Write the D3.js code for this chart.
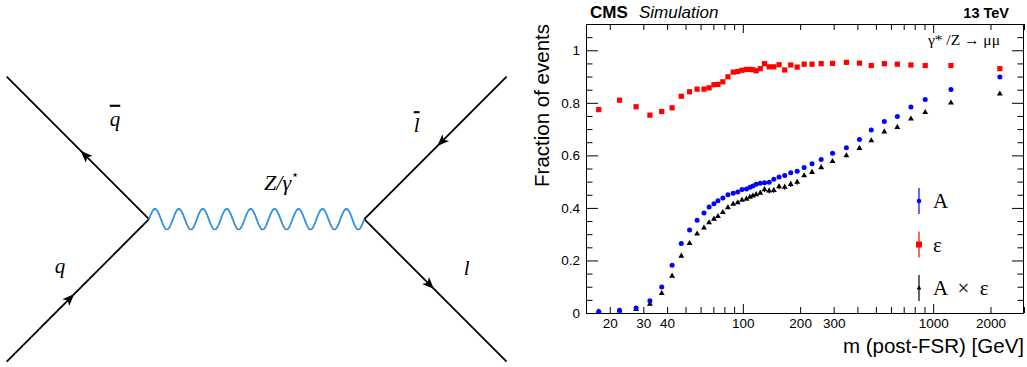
<!DOCTYPE html>
<html>
<head>
<meta charset="utf-8">
<script src="https://cdn.jsdelivr.net/npm/d3@7"></script>
<style>
  body { margin: 0; background: #fff; }
  svg { display: block; font-family: "Liberation Sans", Arial, sans-serif; }
</style>
</head>
<body>
<svg id="chart" width="1027" height="367"></svg>
<script>
// bin centres of m (post-FSR), GeV
const masses = [17.5, 22.5, 27.5, 32.5, 37.5, 42.5, 47.5, 52.5, 57.5, 62.5, 66.5, 70.5, 74, 78.5, 83.5, 89, 94, 99,
  104.5, 109, 113, 117.5, 123.5, 130, 137.5, 145.5, 155, 166, 178.5, 193, 210, 231, 258, 296, 350, 410, 473,
  554, 648, 764, 908, 1240, 2240];

// acceptance A (blue circles)
const acceptance = [0.006, 0.010, 0.019, 0.047, 0.099, 0.182, 0.265, 0.316, 0.353, 0.381, 0.403, 0.416, 0.427,
  0.438, 0.450, 0.456, 0.461, 0.470, 0.472, 0.479, 0.483, 0.490, 0.494, 0.496, 0.498, 0.509, 0.518, 0.523,
  0.534, 0.540, 0.554, 0.568, 0.584, 0.608, 0.629, 0.660, 0.697, 0.729, 0.748, 0.784, 0.813, 0.851, 0.898];

// efficiency eps (red squares)
const efficiency = [0.774, 0.810, 0.785, 0.753, 0.767, 0.781, 0.825, 0.842, 0.852, 0.852, 0.857, 0.869, 0.870,
  0.880, 0.899, 0.917, 0.919, 0.924, 0.927, 0.927, 0.926, 0.922, 0.930, 0.949, 0.937, 0.937, 0.945, 0.925,
  0.944, 0.936, 0.947, 0.947, 0.949, 0.950, 0.954, 0.951, 0.942, 0.949, 0.947, 0.944, 0.942, 0.942, 0.930];

// A x eps (black triangles)
const accEff = [0.005, 0.008, 0.014, 0.034, 0.075, 0.141, 0.217, 0.265, 0.301, 0.324, 0.344, 0.358, 0.368,
  0.383, 0.401, 0.415, 0.420, 0.430, 0.434, 0.441, 0.446, 0.451, 0.457, 0.470, 0.465, 0.467, 0.481, 0.479,
  0.490, 0.498, 0.523, 0.536, 0.554, 0.577, 0.599, 0.627, 0.656, 0.690, 0.707, 0.739, 0.764, 0.800, 0.834];

// only the error bars that are visible in the plot
const accErr = masses.map((m, i) => (i >= 24 && i <= 29) ? 0.006 : 0);
const accEffErr = masses.map((m, i) => (i >= 23 && i <= 29) ? 0.01 : 0);

const xMinorTicks = [20, 30, 40, 50, 60, 70, 80, 90, 200, 300, 400, 500, 600, 700, 800, 900, 2000, 3000];
const xMajorTicks = [100, 1000];
const xTickLabels = [20, 30, 40, 100, 200, 300, 1000, 2000];
const yTickLabels = [0, 0.2, 0.4, 0.6, 0.8, 1];
const legendLabels = ['A', 'ε', 'A × ε'];

// Feynman diagram, in diagram units (1 unit = one leg)
const feynNodes = {
  qIn: [0, -1], qbarOut: [0, 1], v1: [1, 0], v2: [2.513, 0], lbarIn: [3.513, 1], lOut: [3.513, -1]
};
// fermion legs in arrow direction, arrow at fraction t
const feynFermions = [
  { from: 'qIn', to: 'v1', t: 0.445 },
  { from: 'v1', to: 'qbarOut', t: 0.45 },
  { from: 'lbarIn', to: 'v2', t: 0.457 },
  { from: 'v2', to: 'lOut', t: 0.46 }
];
const feynLabels = [
  { text: 'q', bar: true, x: 0.761, y: 0.705 },
  { text: 'q', bar: false, x: 0.375, y: -0.33 },
  { text: 'l', bar: true, x: 2.881, y: 0.66 },
  { text: 'l', bar: false, x: 3.233, y: -0.34 }
];
const bosonLabel = { x: 1.932, y: 0.26 };

const svg = d3.select('#chart');
svg.append('rect').attr('width', 1027).attr('height', 367).attr('fill', '#fff');

// ---------- Feynman diagram ----------
const fx = d3.scaleLinear().domain([0, 1]).range([6.7, 149]);
const fy = d3.scaleLinear().domain([-1, 1]).range([361.7, 76.7]);
const P = id => [fx(feynNodes[id][0]), fy(feynNodes[id][1])];

const feyn = svg.append('g');

feynFermions.forEach(f => {
  const a = P(f.from), b = P(f.to);
  feyn.append('line')
    .attr('x1', a[0]).attr('y1', a[1]).attr('x2', b[0]).attr('y2', b[1])
    .attr('stroke', '#000').attr('stroke-width', 1.8);
  const len = Math.hypot(b[0] - a[0], b[1] - a[1]);
  const ux = (b[0] - a[0]) / len, uy = (b[1] - a[1]) / len;
  const cx = a[0] + f.t * (b[0] - a[0]), cy = a[1] + f.t * (b[1] - a[1]);
  const tip = [cx + 6 * ux, cy + 6 * uy];
  const l = [cx - 6 * ux - 4.8 * uy, cy - 6 * uy + 4.8 * ux];
  const r = [cx - 6 * ux + 4.8 * uy, cy - 6 * uy - 4.8 * ux];
  feyn.append('path')
    .attr('d', `M${tip}L${l}L${cx - 3 * ux},${cy - 3 * uy}L${r}Z`)
    .attr('fill', '#000');
});

// photon / Z propagator
const v1 = feynNodes.v1, v2 = feynNodes.v2;
const wave = d3.range(0, 541).map(i => {
  const t = i / 540;
  return [v1[0] + t * (v2[0] - v1[0]), 0.072 * Math.sin(2 * Math.PI * 9 * t)];
});
feyn.append('path')
  .datum(wave)
  .attr('d', d3.line().x(d => fx(d[0])).y(d => fy(d[1])))
  .attr('fill', 'none')
  .attr('stroke', '#3590db')
  .attr('stroke-width', 1.8);

feyn.selectAll('text.leg')
  .data(feynLabels)
  .join('text')
  .attr('class', 'leg')
  .attr('x', d => fx(d.x))
  .attr('y', d => fy(d.y))
  .attr('text-anchor', 'middle')
  .attr('dominant-baseline', 'central')
  .attr('font-family', '"Liberation Serif", "Times New Roman", serif')
  .attr('font-style', 'italic')
  .attr('font-size', 21)
  .style('text-decoration', d => d.bar ? 'overline' : 'none')
  .text(d => d.text);

const zl = feyn.append('text')
  .attr('x', fx(bosonLabel.x))
  .attr('y', fy(bosonLabel.y))
  .attr('text-anchor', 'middle')
  .attr('dominant-baseline', 'central')
  .attr('font-family', '"Liberation Serif", "Times New Roman", serif')
  .attr('font-style', 'italic')
  .attr('font-size', 22);
zl.append('tspan').text('Z/γ');
zl.append('tspan').attr('dy', -8).attr('font-size', 13).attr('font-style', 'normal').text('⋆');

// ---------- efficiency plot ----------
const W = 1027, H = 367;
const margin = { top: 24, right: 3, bottom: 54, left: 586 };
const plotW = W - margin.left - margin.right;
const plotH = H - margin.top - margin.bottom;

const g = svg.append('g').attr('transform', `translate(${margin.left},${margin.top})`);

const x = d3.scaleLog().domain([15, 3000]).range([0, plotW]);
const y = d3.scaleLinear().domain([0, 1.1]).range([plotH, 0]);

const yTicks = d3.range(0, 23).map(i => +(i * 0.05).toFixed(2));
const isMajorY = v => yTickLabels.includes(v);
const allX = xMinorTicks.concat(xMajorTicks);

function styleAxis(sel) {
  sel.select('.domain').remove();
  sel.attr('font-family', '"Liberation Sans", Arial, sans-serif').attr('font-size', 13.5);
  sel.selectAll('.tick line').attr('stroke-width', 1);
}

// bottom
const axBottom = g.append('g').attr('transform', `translate(0,${plotH})`)
  .call(d3.axisBottom(x).tickValues(allX).tickSize(-6).tickPadding(5)
    .tickFormat(d => xTickLabels.includes(d) ? d : ''))
  .call(styleAxis);
axBottom.selectAll('.tick').filter(d => xMajorTicks.includes(d)).select('line').attr('y2', -9);

// top
const axTop = g.append('g')
  .call(d3.axisTop(x).tickValues(allX).tickSize(-6).tickFormat(''))
  .call(styleAxis);
axTop.selectAll('.tick').filter(d => xMajorTicks.includes(d)).select('line').attr('y2', 9);

// left
const axLeft = g.append('g')
  .call(d3.axisLeft(y).tickValues(yTicks).tickSize(-6.5).tickPadding(6)
    .tickFormat(d => isMajorY(d) ? d3.format('~g')(d) : ''))
  .call(styleAxis);
axLeft.selectAll('.tick').filter(d => isMajorY(d)).select('line').attr('x2', 12);

// right
const axRight = g.append('g').attr('transform', `translate(${plotW},0)`)
  .call(d3.axisRight(y).tickValues(yTicks).tickSize(-6.5).tickFormat(''))
  .call(styleAxis);
axRight.selectAll('.tick').filter(d => isMajorY(d)).select('line').attr('x2', -12);

g.append('rect')
  .attr('x', 0.5).attr('y', 0.5).attr('width', plotW - 1).attr('height', plotH)
  .attr('fill', 'none').attr('stroke', '#000').attr('stroke-width', 1);

const pts = masses.map((m, i) => ({
  m: m, a: acceptance[i], e: efficiency[i], ae: accEff[i], aErr: accErr[i], aeErr: accEffErr[i]
}));

// error bars
g.selectAll('line.errae').data(pts.filter(d => d.aeErr > 0)).join('line')
  .attr('x1', d => x(d.m)).attr('x2', d => x(d.m))
  .attr('y1', d => y(d.ae - d.aeErr)).attr('y2', d => y(d.ae + d.aeErr))
  .attr('stroke', '#000').attr('stroke-width', 1);
g.selectAll('line.erra').data(pts.filter(d => d.aErr > 0)).join('line')
  .attr('x1', d => x(d.m)).attr('x2', d => x(d.m))
  .attr('y1', d => y(d.a - d.aErr)).attr('y2', d => y(d.a + d.aErr))
  .attr('stroke', '#0000ff').attr('stroke-width', 1);

const tri = d3.symbol().type(d3.symbolTriangle).size(15);

g.selectAll('path.ae').data(pts).join('path')
  .attr('class', 'ae')
  .attr('transform', d => `translate(${x(d.m)},${y(d.ae)})`)
  .attr('d', tri)
  .attr('fill', '#000');

g.selectAll('circle.a').data(pts).join('circle')
  .attr('class', 'a')
  .attr('cx', d => x(d.m)).attr('cy', d => y(d.a)).attr('r', 2.5)
  .attr('fill', '#0000ff');

g.selectAll('rect.e').data(pts).join('rect')
  .attr('class', 'e')
  .attr('x', d => x(d.m) - 2.6).attr('y', d => y(d.e) - 2.6)
  .attr('width', 5.2).attr('height', 5.2)
  .attr('fill', '#ff0000');

// legend
const legX = plotW - 105, legY0 = 177, legStep = 43.5;
const legColors = ['#0000ff', '#ff0000', '#000'];
legendLabels.forEach((lab, i) => {
  const ly = legY0 + i * legStep;
  g.append('line').attr('x1', legX).attr('x2', legX).attr('y1', ly - 13).attr('y2', ly + 13)
    .attr('stroke', legColors[i]).attr('stroke-width', 1.2);
  if (i === 0) g.append('circle').attr('cx', legX).attr('cy', ly).attr('r', 2.3).attr('fill', legColors[i]);
  if (i === 1) g.append('rect').attr('x', legX - 3).attr('y', ly - 3).attr('width', 6).attr('height', 6).attr('fill', legColors[i]);
  if (i === 2) g.append('path').attr('transform', `translate(${legX},${ly})`).attr('d', d3.symbol().type(d3.symbolTriangle).size(10)).attr('fill', legColors[i]);
  g.append('text')
    .attr('x', legX + 14).attr('y', ly)
    .attr('dominant-baseline', 'central')
    .attr('font-family', '"Liberation Serif", "Times New Roman", serif')
    .attr('font-size', 21)
    .style('white-space', 'pre')
    .text(lab.replace(/ /g, '  '));
});

// process label
g.append('text')
  .attr('x', plotW - 24).attr('y', 21)
  .attr('text-anchor', 'end')
  .attr('font-family', '"Liberation Serif", "Times New Roman", serif')
  .attr('font-size', 15.5)
  .text('γ* /Z → μμ');

// axis titles
svg.append('text')
  .attr('transform', 'rotate(-90)')
  .attr('x', -margin.top).attr('y', 549)
  .attr('text-anchor', 'end')
  .attr('font-size', 20.5)
  .text('Fraction of events');

svg.append('text')
  .attr('x', W - 3).attr('y', 353)
  .attr('text-anchor', 'end')
  .attr('font-size', 20.5)
  .text('m (post-FSR) [GeV]');

// header
svg.append('text').attr('x', 590).attr('y', 18)
  .attr('font-weight', 'bold').attr('font-size', 17).text('CMS');
svg.append('text').attr('x', 639).attr('y', 18)
  .attr('font-style', 'italic').attr('font-size', 17).text('Simulation');
svg.append('text').attr('x', 1009).attr('y', 18).attr('text-anchor', 'end')
  .attr('font-weight', 'bold').attr('font-size', 14.5).text('13 TeV');
</script>
</body>
</html>
